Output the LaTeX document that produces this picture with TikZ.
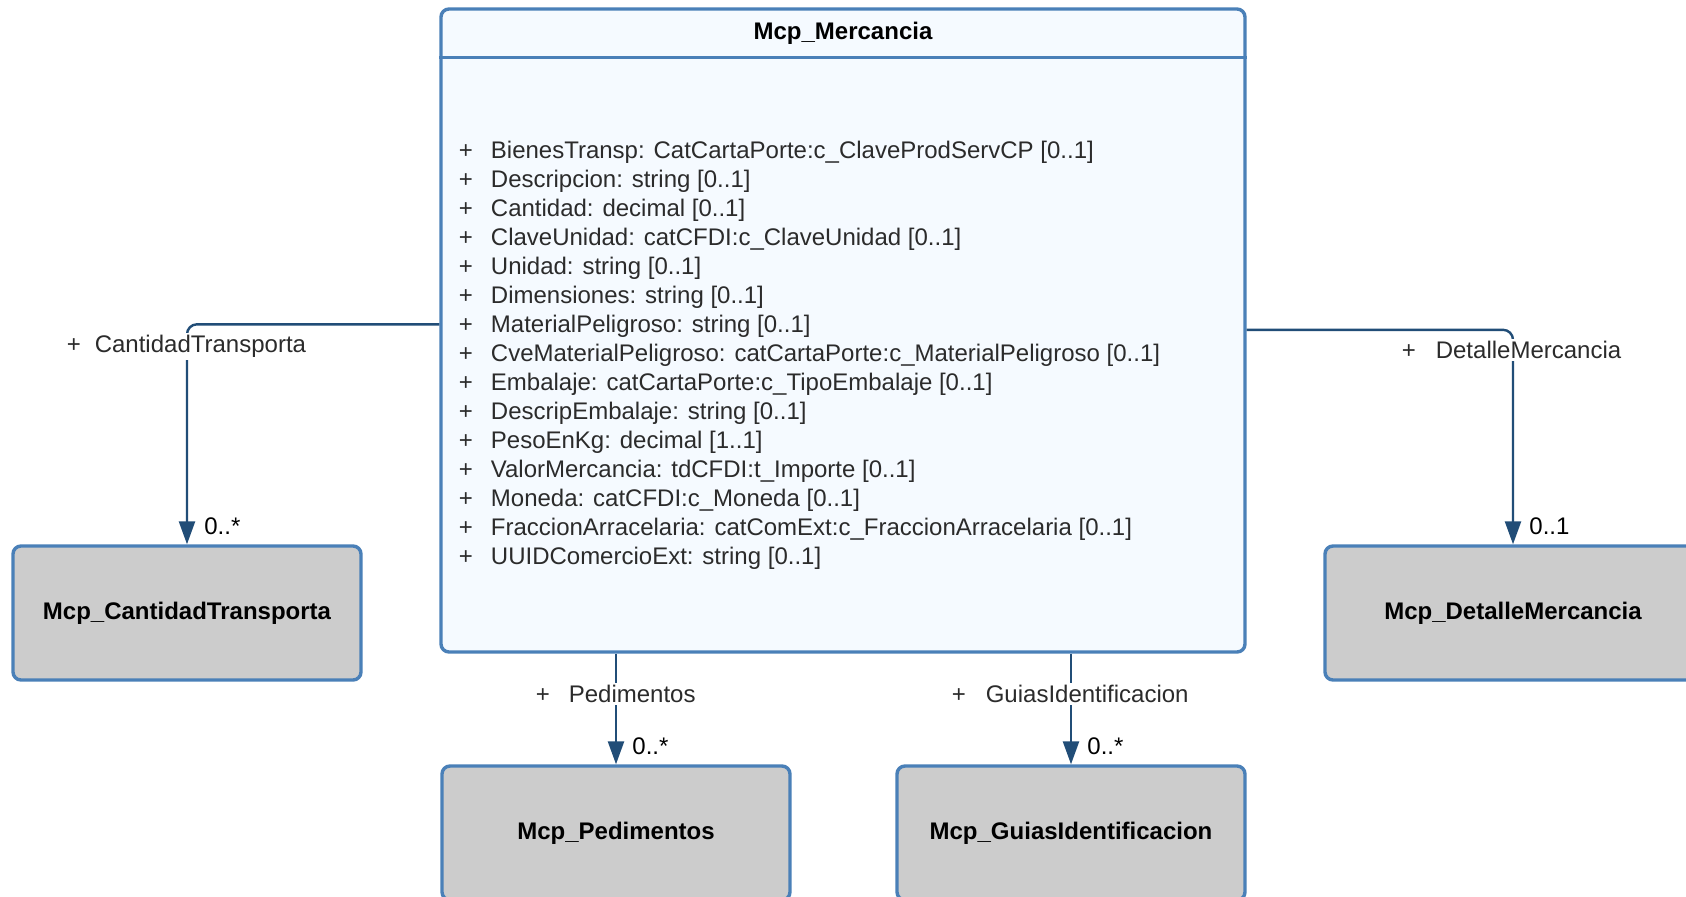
\documentclass[tikz,border=0pt]{standalone}
\usepackage{fontspec}
\setmainfont{Liberation Sans}
\usetikzlibrary{arrows.meta}
\definecolor{bordblue}{HTML}{4A80B8}
\definecolor{connblue}{HTML}{214D77}
\definecolor{mainfill}{HTML}{F5FAFF}
\definecolor{grayfill}{HTML}{CCCCCC}
\definecolor{txt}{HTML}{2B2B2B}
\begin{document}
\begin{tikzpicture}[x=0.5pt,y=-0.5pt,
  fnt/.style={font=\fontsize{12}{14.5}\selectfont},
  fntb/.style={font=\fontsize{12}{14.5}\selectfont\bfseries},
  mainbox/.style={draw=bordblue, line width=1.7pt, fill=mainfill, rounded corners=4pt,
    minimum width=402pt, minimum height=321.5pt, inner sep=0pt},
  classbox/.style={draw=bordblue, line width=1.7pt, fill=grayfill, rounded corners=4pt,
    minimum width=174pt, minimum height=67pt, inner sep=0pt, fntb, text=black},
  conn/.style={draw=connblue, line width=1.2pt, -{Triangle[length=11.5pt,width=8pt]}, rounded corners=5pt},
  rolelabel/.style={fnt, text=txt, fill=white, inner sep=1.2pt, anchor=base west},
  mult/.style={fnt, text=black, inner sep=0pt, anchor=west},
  attr/.style={fnt, text=txt, inner sep=0pt, anchor=base west},
]
\useasboundingbox (0,0) rectangle (1686,896);
\clip (0,0) rectangle (1686,896);
\fill[white] (0,0) rectangle (1686,896);

% main class
\node[mainbox] (main) at (843,330.5) {};
\node[fntb, text=black, anchor=base, inner sep=0pt] (title) at (843,39.6) {Mcp\_Mercancia};
\path (main.north west) ++(0,50) coordinate (hL);
\path (main.north east) ++(0,50) coordinate (hR);
\draw[bordblue, line width=1.7pt] (hL) -- (hR);

\foreach \t [count=\i] in {
  {BienesTransp: CatCartaPorte:c\_ClaveProdServCP [0..1]},
  {Descripcion: string [0..1]},
  {Cantidad: decimal [0..1]},
  {ClaveUnidad: catCFDI:c\_ClaveUnidad [0..1]},
  {Unidad: string [0..1]},
  {Dimensiones: string [0..1]},
  {MaterialPeligroso: string [0..1]},
  {CveMaterialPeligroso: catCartaPorte:c\_MaterialPeligroso [0..1]},
  {Embalaje: catCartaPorte:c\_TipoEmbalaje [0..1]},
  {DescripEmbalaje: string [0..1]},
  {PesoEnKg: decimal [1..1]},
  {ValorMercancia: tdCFDI:t\_Importe [0..1]},
  {Moneda: catCFDI:c\_Moneda [0..1]},
  {FraccionArracelaria: catComExt:c\_FraccionArracelaria [0..1]},
  {UUIDComercioExt: string [0..1]}}
  \node[attr] (a\i) at (458.5,{158+29.03*(\i-1)}) {+\hspace{9pt}\t};

% related classes
\node[classbox] (ct) at (187,613) {Mcp\_CantidadTransporta};
\node[classbox, minimum width=188pt] (dm) at (1513,613) {Mcp\_DetalleMercancia};
\node[classbox] (ped) at (616,833) {Mcp\_Pedimentos};
\node[classbox] (gi) at (1071,833) {Mcp\_GuiasIdentificacion};

% connectors
\path (main.north west) ++(0,317) coordinate (mL);
\path (main.north east) ++(0,322.5) coordinate (mR);
\draw[conn] (mL) -| (ct.north);
\draw[conn] (mR) -| (dm.north);
\draw[conn] (main.south -| ped.north) -- (ped.north);
\draw[conn] (main.south -| gi.north) -- (gi.north);

% role labels
\node[rolelabel] (l1) at (64,352.5) {+\hspace{7pt}CantidadTransporta};
\node[rolelabel] (l2) at (1399,358.5) {+\hspace{10pt}DetalleMercancia};
\node[rolelabel] (l3) at (533,702.5) {+\hspace{9.5pt}Pedimentos};
\node[rolelabel] (l4) at (949,702.5) {+\hspace{10pt}GuiasIdentificacion};

% multiplicities
\node[mult] (n1) at ([xshift=8.5pt,yshift=9pt]ct.north) {0..*};
\node[mult] (n2) at ([xshift=8pt,yshift=9pt]dm.north) {0..1};
\node[mult] (n3) at ([xshift=8pt,yshift=9pt]ped.north) {0..*};
\node[mult] (n4) at ([xshift=8pt,yshift=9pt]gi.north) {0..*};
\end{tikzpicture}
\end{document}
